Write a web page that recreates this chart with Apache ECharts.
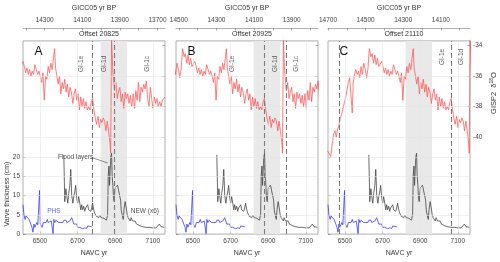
<!DOCTYPE html>
<html><head><meta charset="utf-8">
<script src="https://cdn.jsdelivr.net/npm/echarts@6/dist/echarts.min.js"></script>
<style>html,body{margin:0;padding:0;background:#fff}#c{width:500px;height:262px}</style>
</head><body><div id="c"></div>
<script>
// ---------------- data ----------------
const offsets = [20825, 20925, 21110];
const panelLetters = ['A', 'B', 'C'];
const navcTicks = [6500, 6700, 6900, 7100];
const topTickLabels = [[14300, 14100, 13900, 13700], [14500, 14300, 14100, 13900], [14700, 14500, 14300, 14100]];
const varveTicks = [0, 5, 10, 15, 20];
const varveGrid = [5, 10, 15, 20];
const d18OTicks = [-34, -36, -38, -40];
const d18OGrid = [-36, -38, -40];
const floodShade = [6823, 6963];               // NAVC yr
const stageBounds = [14640, 14045, 13930];     // GICC05 yr BP
const stageNames = [['GI-1e', 'GI-1d', 'GI-1c'], ['GI-1e', 'GI-1d', 'GI-1c'], ['GI-1e', 'GI-1d']];
const stageLabelYears = [[14108, 13985, 13752], [14215, 13986, 13876], [14093, 13994]];
const stageLabelLevel = [-35.2, -35.2, -34.75];

// GISP2 d18O on GICC05 yr BP
const gisp2Year = [14702,14695,14686,14677,14670,14663,14656,14649,14642,14635,14628,14621,14614,14607,14599,14592,14585,14578,14571,14566,14559,14552,14545,14538,14531,14524,14517,14510,14502,14495,14488,14480,14472,14465,14458,14451,14444,14437,14430,14423,
14415,14408,14401,14394,14387,14380,14373,14366,14359,14352,14344,14337,14330,14323,14316,14309,14302,14295,14288,14281,14274,14267,14260,14253,14247,14242,14235,14228,14221,14214,14207,14200,14193,14186,14179,14172,14165,14158,14150,14143,14136,14129,14122,14115,14108,14101,14094,14087,14080,14073,14066,14059,14052,14045,14038,14031,14024,14016,14009,14002,13995,13988,13981,13974,13967,13960,13955,13951,13949,13944,13937,13928,13921,13914,13907,13900,13893,13886,13879,13872,13865,13858,13851,13844,13837,13829,13822,13815,13808,13801,13794,13787,13780,13773,13766,13759,13752,13745,13738,13731,13724,13717,13710,13703,13696,13688,13681,13674,13667,13660];
const gisp2D18O = [-40.9,-41.05,-41.26,-40.42,-39.79,-39.58,-40.0,-39.47,-39.26,-38.74,-38.53,-38.63,-37.79,-37.47,-36.95,-36.42,-36.11,-36.0,-38.42,-36.42,-35.89,-35.58,-35.89,-35.68,-36.11,-35.37,-35.89,-35.16,-35.58,-36.11,-35.58,-34.21,-34.74,-34.53,-35.16,-34.63,-35.26,-34.84,-35.37,-35.26,
-35.05,-35.37,-35.79,-35.47,-35.89,-35.58,-36.0,-35.68,-35.89,-35.26,-35.37,-35.89,-35.68,-36.0,-36.42,-35.79,-37.58,-36.0,-36.21,-35.37,-35.79,-35.16,-35.58,-34.84,-34.21,-35.47,-36.0,-36.53,-36.0,-37.16,-36.42,-36.84,-36.21,-37.05,-36.53,-37.37,-36.74,-37.05,-37.79,-37.16,-36.84,-37.58,-37.16,-38.21,-37.37,-38.0,-37.47,-38.11,-37.68,-38.21,-38.0,-38.21,-37.68,-37.47,-38.21,-38.74,-39.16,-38.63,-39.37,-38.84,-39.05,-38.74,-38.95,-39.58,-38.95,-39.58,-40.11,-40.53,-41.05,-33.6,-35.79,-36.95,-36.42,-37.47,-37.05,-36.74,-37.68,-37.16,-38.11,-37.05,-37.47,-37.16,-37.79,-37.26,-38.0,-37.16,-38.11,-36.95,-37.58,-36.42,-37.68,-36.74,-37.05,-36.53,-36.84,-36.32,-37.47,-38.0,-36.74,-37.47,-38.11,-37.37,-37.79,-37.47,-38.0,-37.68,-38.0,-37.58,-37.47,-37.37];

// NEW varve thickness (x6), NAVC yr
const newYear = [6627,6632,6638,6643,6648,6653,6659,6664,6669,6675,6680,6685,6690,6696,6701,6706,6712,6717,6722,6727,6733,6738,6743,6749,6754,6759,6764,6770,6775,6780,6786,6791,6798,6805,6812,6819,6826,6833,6840,6847,6854,6860,6863,6867,6870,6874,6877,6881,6884,6888,6891,6895,6899,6902,6907,6913,6918,6923,6929,6932,6937,6943,6948,6953,6959,6964,6969,6974,6980,6985,6992,6999,7006,7013,7020,7029,7038,7047,7055,7064,7073,7082,7091,7100,7108,7117,7126,7135,7144,7152,7161];
const newThick = [20.5,8.4,11.75,9.7,8.0,10.5,12.6,16.75,10.1,8.0,9.7,10.9,12.6,9.25,8.0,9.7,8.0,6.3,7.6,6.3,7.2,5.9,6.75,6.3,7.6,6.3,6.75,5.9,6.75,8.0,6.3,5.5,4.7,5.1,4.25,4.9,4.25,4.7,4.1,4.4,3.6,5.1,15.1,17.6,12.6,16.75,20.1,20.9,15.1,12.6,9.25,8.4,10.9,12.2,11.75,12.6,12.2,10.1,8.8,6.3,5.1,3.8,6.75,8.4,6.75,5.1,4.25,3.8,3.4,4.25,3.4,3.0,3.4,2.6,3.0,2.2,2.6,1.9,2.3,1.75,2.1,1.75,2.0,1.6,1.9,1.6,2.1,2.6,1.9,2.4,1.75];

// PHS varve thickness, NAVC yr
const phsYear = [6410,6415,6421,6426,6431,6436,6442,6447,6452,6458,6463,6468,6473,6479,6484,6489,6495,6498,6502,6507,6512,6518,6523,6528,6533,6539,6544,6549,6554,6560,6565,6570,6574,6579,6585,6590,6595,6600,6606,6611,6616,6622,6627,6632,6638,6643,6648,6653,6659,6664,6669,6675,6680,6685,6690,6696,6701,6706,6712,6717,6722,6727,6733,6738,6743,6749,6754,6760,6765,6770,6776];
const phsThick = [7.6,5.1,3.8,4.7,4.25,4.4,3.8,4.25,3.4,1.75,0.5,2.6,1.75,2.2,3.0,2.4,2.6,11.3,2.6,2.2,1.75,3.0,2.6,3.4,3.0,3.8,3.0,3.4,3.0,3.4,3.4,0.1,3.8,3.0,3.6,3.2,3.6,3.0,3.4,3.0,3.4,3.0,3.6,3.2,3.6,3.0,3.4,3.0,3.4,3.8,4.25,3.4,2.6,2.75,2.2,2.6,1.75,2.2,1.75,1.3,1.9,1.4,1.9,1.6,1.9,1.5,2.1,1.7,2.0,1.6,1.9];

// ---------------- layout ----------------
const gridLefts = [23, 176, 328];
const gridW = 142, gridTop = 37, gridH = 200;
const navcMin = 6410, navcMax = 7165;
const d18Min = -46.34, d18Max = -33.70;
const varveMin = 0, varveMax = 50;
const FONT = 'Liberation Sans, Arial, sans-serif';
const txt = '#333', tickCol = '#8a8a8a', gridCol = '#e4e4e4';
const plain = v => String(v);

const zip = (a, b) => { const n = Math.min(a.length, b.length); const r = []; for (let i = 0; i < n; i++) r.push([a[i], b[i]]); return r; };
const redData = zip(gisp2Year, gisp2D18O);
const newData = zip(newYear, newThick);
const phsData = zip(phsYear, phsThick);

const grids = [], xAxes = [], yAxes = [], series = [], titles = [];

for (let i = 0; i < 3; i++) {
  const off = offsets[i];
  const gMin = off - navcMax, gMax = off - navcMin;
  const hundreds = [];
  for (let v = Math.ceil(gMin / 100) * 100; v <= gMax; v += 100) hundreds.push(v);
  grids.push({ left: gridLefts[i], top: gridTop, width: gridW, height: gridH, show: true, borderColor: '#9a9a9a', borderWidth: 0.8, backgroundColor: 'transparent' });
  const xb = xAxes.length;
  xAxes.push({ gridIndex: i, type: 'value', position: 'bottom', min: navcMin, max: navcMax,
    name: 'NAVC yr', nameLocation: 'middle', nameGap: 12, nameTextStyle: { fontSize: 7, color: txt, fontFamily: FONT },
    axisLine: { show: false, onZero: false }, splitLine: { show: false },
    axisTick: { show: true, inside: true, length: 2.5, customValues: navcTicks, lineStyle: { color: tickCol, width: 0.8 } },
    axisLabel: { customValues: navcTicks, formatter: plain, fontSize: 6.5, color: '#444', margin: 4, fontFamily: FONT } });
  const xt = xAxes.length;
  xAxes.push({ gridIndex: i, type: 'value', position: 'top', offset: 13, inverse: true, min: gMin, max: gMax,
    name: 'GICC05 yr BP', nameLocation: 'middle', nameGap: 15, nameTextStyle: { fontSize: 7, color: txt, fontFamily: FONT },
    axisLine: { show: true, onZero: false, lineStyle: { color: '#9a9a9a', width: 0.8 } }, splitLine: { show: false },
    axisTick: { show: true, inside: true, length: 2.5, customValues: hundreds, lineStyle: { color: tickCol, width: 0.8 } },
    axisLabel: { customValues: topTickLabels[i], formatter: plain, fontSize: 6.5, color: '#444', margin: 4, fontFamily: FONT } });
  const yl = yAxes.length;
  yAxes.push({ gridIndex: i, type: 'value', position: 'left', min: varveMin, max: varveMax,
    axisLine: { show: false, onZero: false }, splitLine: { show: false },
    axisTick: { show: true, inside: true, length: 2.5, customValues: varveTicks, lineStyle: { color: tickCol, width: 0.8 } },
    axisLabel: { show: i === 0, customValues: varveTicks, formatter: plain, fontSize: 6.5, color: '#444', margin: 3, fontFamily: FONT } });
  const yr = yAxes.length;
  yAxes.push({ gridIndex: i, type: 'value', position: 'right', min: d18Min, max: d18Max,
    axisLine: { show: false, onZero: false }, splitLine: { show: false },
    axisTick: { show: true, inside: true, length: 2.5, customValues: d18OTicks, lineStyle: { color: tickCol, width: 0.8 } },
    axisLabel: { show: i === 2, customValues: d18OTicks, formatter: plain, fontSize: 6.5, color: '#444', margin: 3, fontFamily: FONT } });

  const gl = { color: gridCol, width: 0.6, type: 'solid' };
  series.push({ type: 'line', xAxisIndex: xb, yAxisIndex: yl, data: [], silent: true, z: 1, animation: false,
    markArea: { silent: true, itemStyle: { color: '#e9e9e9' }, data: [[{ xAxis: floodShade[0] }, { xAxis: floodShade[1] }]] },
    markLine: { silent: true, symbol: ['none', 'none'], label: { show: false }, lineStyle: gl,
      data: varveGrid.map(v => ({ yAxis: v })).concat(navcTicks.map(v => ({ xAxis: v }))) } });
  series.push({ type: 'line', xAxisIndex: xt, yAxisIndex: yr, data: [], silent: true, z: 1, animation: false,
    markLine: { silent: true, symbol: ['none', 'none'], label: { show: false }, lineStyle: gl,
      data: d18OGrid.map(v => ({ yAxis: v })) } });
  series.push({ type: 'line', xAxisIndex: xt, yAxisIndex: yr, data: redData, symbol: 'none', z: 3, animation: false,
    lineStyle: { color: '#ff5252', width: 0.75 },
    markLine: { silent: true, symbol: ['none', 'none'], label: { show: false }, animation: false,
      lineStyle: { color: '#7a7a7a', width: 1.1, type: [5, 3] },
      data: stageBounds.filter(v => v > gMin && v < gMax).map(v => ({ xAxis: v })) } });
  series.push({ type: 'line', xAxisIndex: xb, yAxisIndex: yl, data: phsData, symbol: 'none', z: 4, animation: false,
    lineStyle: { color: '#3a3aff', width: 0.8 } });
  const newSeries = { type: 'line', xAxisIndex: xb, yAxisIndex: yl, data: newData, symbol: 'none', z: 4, animation: false,
    lineStyle: { color: '#3a3a3a', width: 0.75 } };
  if (i === 0) {
    newSeries.markLine = { silent: true, symbol: ['none', 'none'], label: { show: false }, animation: false,
      lineStyle: { color: '#444', width: 0.6, type: 'solid' },
      data: [[{ coord: [6782, 19.7] }, { coord: [6861, 18.4] }]] };
  }
  series.push(newSeries);
  series.push({ type: 'scatter', xAxisIndex: xt, yAxisIndex: yr, symbolSize: 0, z: 5, silent: true, animation: false,
    data: stageNames[i].map((n, k) => ({ name: n, value: [stageLabelYears[i][k], stageLabelLevel[i]] })),
    label: { show: true, position: 'inside', rotate: 90, formatter: '{b}', fontSize: 6.5, color: txt, fontFamily: FONT } });
  if (i === 0) {
    series.push({ type: 'scatter', xAxisIndex: xb, yAxisIndex: yl, symbolSize: 0, z: 5, silent: true, animation: false,
      data: [
        { name: 'Flood layers', value: [6690, 19.9], label: { color: '#222' } },
        { name: 'PHS', value: [6574, 6.0], label: { color: '#3a3aff' } },
        { name: 'NEW (x6)', value: [7058, 6.0], label: { color: '#222' } }
      ],
      label: { show: true, position: 'inside', formatter: '{b}', fontSize: 6.5, fontFamily: FONT } });
  }
  titles.push({ text: 'Offset ' + off, left: gridLefts[i] + gridW / 2, top: 26, textAlign: 'center',
    textStyle: { fontSize: 7, fontWeight: 'normal', color: txt, fontFamily: FONT } });
  titles.push({ text: panelLetters[i], left: gridLefts[i] + 6.5, top: 41, textStyle: { fontSize: 12, fontWeight: 'normal', color: '#111', fontFamily: FONT } });
}

const chart = echarts.init(document.getElementById('c'));
chart.setOption({
  animation: false,
  backgroundColor: '#fff',
  title: titles,
  grid: grids, xAxis: xAxes, yAxis: yAxes, series: series,
  graphic: [
    { type: 'text', x: 7, y: 194, rotation: Math.PI / 2,
      style: { text: 'Varve thickness (cm)', fontSize: 7, fill: txt, fontFamily: FONT, textAlign: 'center', textVerticalAlign: 'middle' } },
    { type: 'text', x: 494, y: 93, rotation: Math.PI / 2,
      style: { text: '{a|GISP2  δ}{s|18}{a|O}', fontFamily: FONT, textAlign: 'center', textVerticalAlign: 'middle',
        rich: { a: { fontSize: 7.5, fill: txt, fontFamily: FONT }, s: { fontSize: 5, fill: txt, fontFamily: FONT, verticalAlign: 'top', padding: [0, 0, 5, 0] } } } }
  ]
});
</script></body></html>
